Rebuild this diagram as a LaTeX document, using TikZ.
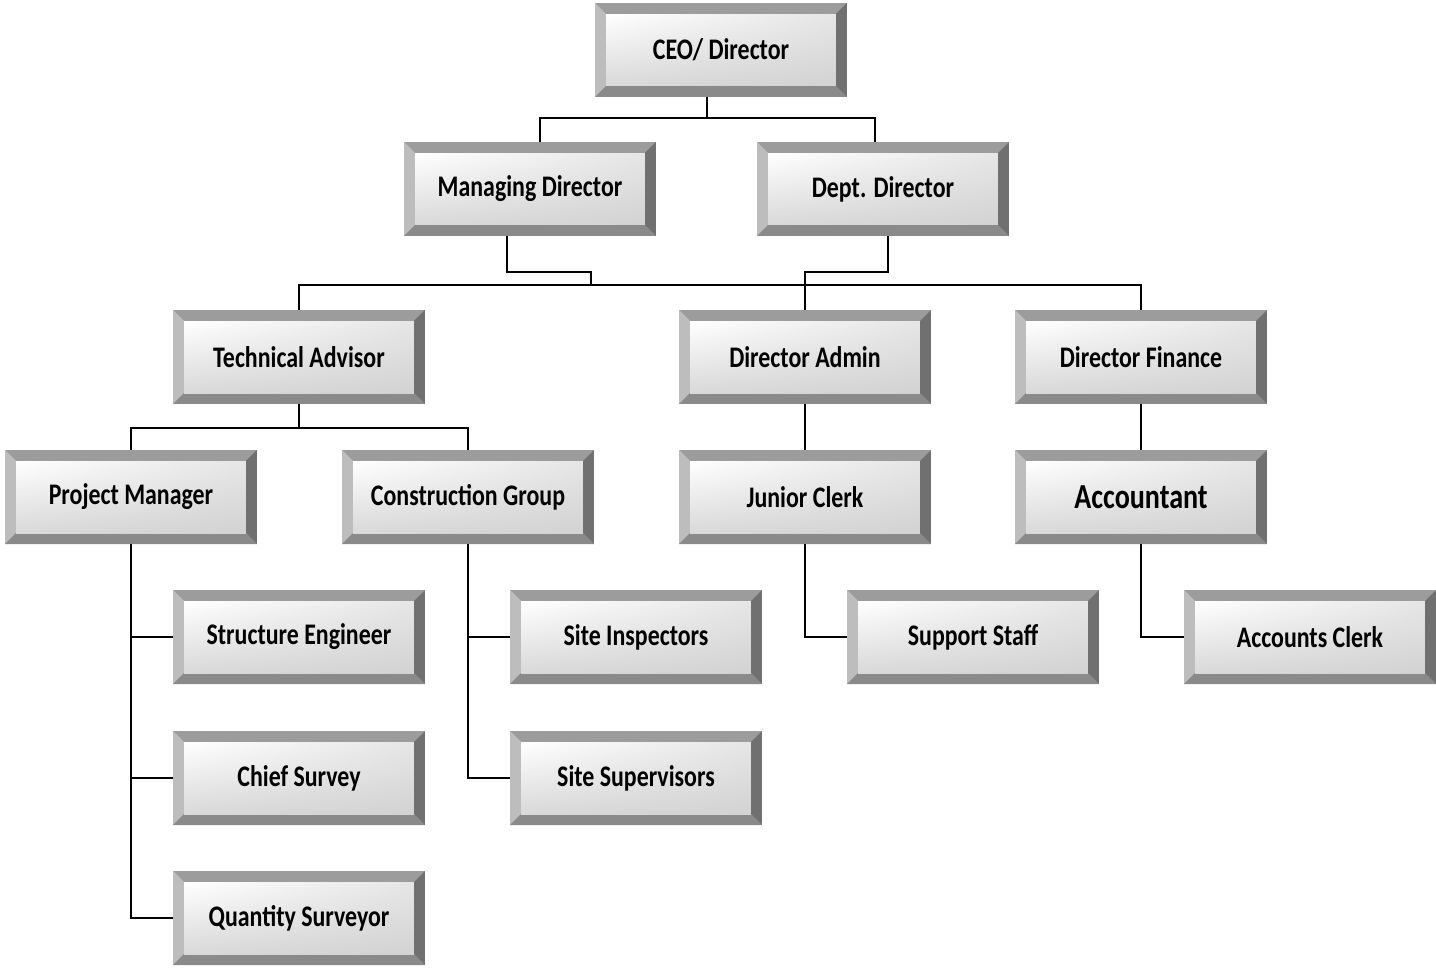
\documentclass[tikz,border=0pt]{standalone}
\usepackage{fontspec}
\setmainfont{Carlito}
\newfontfamily\boxfont[FakeStretch=0.8]{Carlito}
\usetikzlibrary{positioning, shadings}

\definecolor{bevtop}{HTML}{9C9C9C}
\definecolor{bevleft}{HTML}{BDBDBD}
\definecolor{bevright}{HTML}{707070}
\definecolor{bevbottom}{HTML}{8A8A8A}

\def\bev{0.22cm}
\tikzstyle{post} = [rectangle, minimum width=5.04cm, minimum height=1.88cm, inner sep=0pt, text centered,
  font=\boxfont\bfseries\fontsize{17}{20}\selectfont, fill=bevtop,
  path picture={
    \fill[bevtop] (path picture bounding box.north west) -- (path picture bounding box.north east)
      -- ([shift={(-\bev,-\bev)}]path picture bounding box.north east) -- ([shift={(\bev,-\bev)}]path picture bounding box.north west) -- cycle;
    \fill[bevleft] (path picture bounding box.north west) -- (path picture bounding box.south west)
      -- ([shift={(\bev,\bev)}]path picture bounding box.south west) -- ([shift={(\bev,-\bev)}]path picture bounding box.north west) -- cycle;
    \fill[bevright] (path picture bounding box.north east) -- (path picture bounding box.south east)
      -- ([shift={(-\bev,\bev)}]path picture bounding box.south east) -- ([shift={(-\bev,-\bev)}]path picture bounding box.north east) -- cycle;
    \fill[bevbottom] (path picture bounding box.south west) -- (path picture bounding box.south east)
      -- ([shift={(-\bev,\bev)}]path picture bounding box.south east) -- ([shift={(\bev,\bev)}]path picture bounding box.south west) -- cycle;
    \shade[upper left=white, upper right=gray!20, lower left=gray!30, lower right=gray!35]
      ([shift={(\bev,\bev)}]path picture bounding box.south west) rectangle ([shift={(-\bev,-\bev)}]path picture bounding box.north east);
  }]
\tikzstyle{line} = [line width=1pt, black]

\begin{document}
\begin{tikzpicture}[x=0.02cm, y=0.02cm]
	\useasboundingbox (0,0) rectangle (1436,-967);

	\node (ceo) [post] at (721,-50) {CEO/ Director};
	\node (md) [post] at (530,-189) {Managing Director};
	\node (dd) [post] at (883,-189) {Dept. Director};

	\node (ta) [post] at (299,-357) {Technical Advisor};
	\node (da) [post] at (805,-357) {Director Admin};
	\node (df) [post] at (1141,-357) {Director Finance};

	\node (pm) [post] at (131,-497) {Project Manager};
	\node (cg) [post] at (468,-497) {Construction Group};
	\node (jc) [post] at (805,-497) {Junior Clerk};
	\node (acc) [post, font=\boxfont\bfseries\fontsize{20}{24}\selectfont] at (1141,-497) {Accountant};

	\node (se) [post] at (299,-637) {Structure Engineer};
	\node (si) [post] at (636,-637) {Site Inspectors};
	\node (sup) [post] at (973,-637) {Support Staff};
	\node (ac) [post] at (1310,-637) {Accounts Clerk};

	\node (cs) [post] at (299,-778) {Chief Survey};
	\node (ssv) [post] at (636,-778) {Site Supervisors};

	\node (qs) [post] at (299,-918) {Quantity Surveyor};

	% top levels
	\draw [line] ([xshift=-0.28cm]ceo.south) -- ++(0,-21) coordinate (j1);
	\draw [line] ([xshift=0.2cm]md.north) |- (j1) -| ([xshift=-0.16cm]dd.north);
	\coordinate (bus) at (591,-285);
	\draw [line] ([xshift=-0.46cm]md.south) -- ++(0,-36) -| (bus);
	\draw [line] ([xshift=0.1cm]dd.south) -- ++(0,-36) -| (da.north);
	\draw [line] (ta.north) |- (bus) -| (df.north);

	\draw [line] (ta.south) -- ++(0,-24) coordinate (j2);
	\draw [line] (pm.north) |- (j2) -| (cg.north);
	\draw [line] (da.south) -- (jc.north);
	\draw [line] (df.south) -- (acc.north);

	% side branches
	\draw [line] (pm.south) |- (qs.west);
	\draw [line] (pm.south |- se.west) -- (se.west);
	\draw [line] (pm.south |- cs.west) -- (cs.west);
	\draw [line] (cg.south) |- (ssv.west);
	\draw [line] (cg.south |- si.west) -- (si.west);
	\draw [line] (jc.south) |- (sup.west);
	\draw [line] (acc.south) |- (ac.west);

\end{tikzpicture}
\end{document}
